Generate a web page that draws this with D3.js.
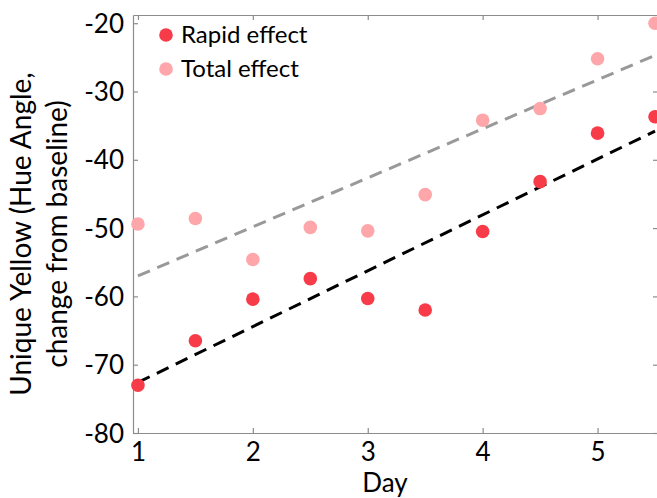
<!DOCTYPE html>
<html>
<head>
<meta charset="utf-8">
<script src="https://cdn.jsdelivr.net/npm/d3@7"></script>
<style>
  html, body { margin: 0; padding: 0; background: #fff; }
  svg { display: block; }
  text { font-family: Lato, "Open Sans", sans-serif; fill: #000; }
</style>
</head>
<body>
<svg id="chart" width="657" height="498"></svg>
<script>
// ---- data ----
const days = [1, 1.5, 2, 2.5, 3, 3.5, 4, 4.5, 5, 5.5];
const rapidEffect = [-73.0, -66.5, -60.4, -57.4, -60.3, -62.0, -50.5, -43.2, -36.1, -33.7];
const totalEffect = [-49.4, -48.6, -54.6, -49.9, -50.4, -45.1, -34.2, -32.5, -25.2, -20.0];
const fitDays = [1, 5.5];
const rapidFit = [-72.6, -35.8];
const totalFit = [-57.0, -24.7];
const xTicks = [1, 2, 3, 4, 5];
const yTicks = [-80, -70, -60, -50, -40, -30, -20];
const seriesNames = ["Rapid effect", "Total effect"];
const seriesColors = ["#f73b48", "#ffa6aa"];
const fitColors = ["#000000", "#999999"];

// ---- layout ----
const svg = d3.select("#chart");
const mLeft = 133, mRight = 658, mTop = 15, mBottom = 433;
const x = d3.scaleLinear().domain([0.957, 5.526]).range([mLeft, mRight]);
const y = d3.scaleLinear().domain([-80, -18.8]).range([mBottom, mTop]);

const axisColor = "#8c8c8c";
const tickLen = 5;
const fmt = d => String(d);

const gx = svg.append("g").attr("transform", `translate(0,${mBottom})`)
  .call(d3.axisBottom(x).tickValues(xTicks).tickSizeInner(-tickLen).tickSizeOuter(0).tickPadding(0).tickFormat(fmt));
const gxTop = svg.append("g").attr("transform", `translate(0,${mTop})`)
  .call(d3.axisTop(x).tickValues(xTicks).tickSizeInner(-tickLen).tickSizeOuter(0).tickFormat(""));
const gy = svg.append("g").attr("transform", `translate(${mLeft},0)`)
  .call(d3.axisLeft(y).tickValues(yTicks).tickSizeInner(-tickLen).tickSizeOuter(0).tickPadding(9).tickFormat(fmt));
const gyR = svg.append("g").attr("transform", `translate(${mRight},0)`)
  .call(d3.axisRight(y).tickValues(yTicks).tickSizeInner(-tickLen).tickSizeOuter(0).tickFormat(""));

[gx, gxTop, gy, gyR].forEach(g => {
  g.select(".domain").attr("stroke", axisColor).attr("stroke-width", 1.2);
  g.selectAll(".tick line").attr("stroke", axisColor).attr("stroke-width", 1.2);
  g.selectAll(".tick text").attr("font-family", "Lato, sans-serif").attr("font-size", 26).attr("fill", "#000");
});
// bottom labels: place baseline explicitly
gx.selectAll(".tick text").attr("y", 28).attr("dy", null);
gy.selectAll(".tick text").attr("dy", "0.35em");

const plot = svg.append("g");

const line = d3.line().x(d => x(d[0])).y(d => y(d[1]));
[rapidFit, totalFit].forEach((fit, i) => {
  plot.append("path")
    .datum(fitDays.map((d, k) => [d, fit[k]]))
    .attr("d", line)
    .attr("fill", "none")
    .attr("stroke", fitColors[i])
    .attr("stroke-width", 3)
    .attr("stroke-dasharray", "13,8");
});

[rapidEffect, totalEffect].forEach((vals, i) => {
  plot.append("g").selectAll("circle")
    .data(days.map((d, k) => [d, vals[k]]))
    .join("circle")
    .attr("cx", d => x(d[0]))
    .attr("cy", d => y(d[1]))
    .attr("r", 6.8)
    .attr("fill", seriesColors[i]);
});

const legend = svg.append("g");
seriesNames.forEach((name, i) => {
  const ly = 35 + i * 34;
  legend.append("circle").attr("cx", 166).attr("cy", ly).attr("r", 6.8).attr("fill", seriesColors[i]);
  legend.append("text").attr("x", 181).attr("y", ly).attr("dy", "0.35em")
    .attr("font-size", 24).text(name);
});

svg.append("text").attr("x", 385).attr("y", 492)
  .attr("text-anchor", "middle").attr("font-size", 26).text("Day");

const yLab = svg.append("text").attr("text-anchor", "middle")
  .attr("transform", "translate(0,234) rotate(-90)").attr("font-size", 28);
yLab.append("tspan").attr("x", 0).attr("y", 31).text("Unique Yellow (Hue Angle,");
yLab.append("tspan").attr("x", 0).attr("y", 67).text("change from baseline)");
</script>
</body>
</html>
